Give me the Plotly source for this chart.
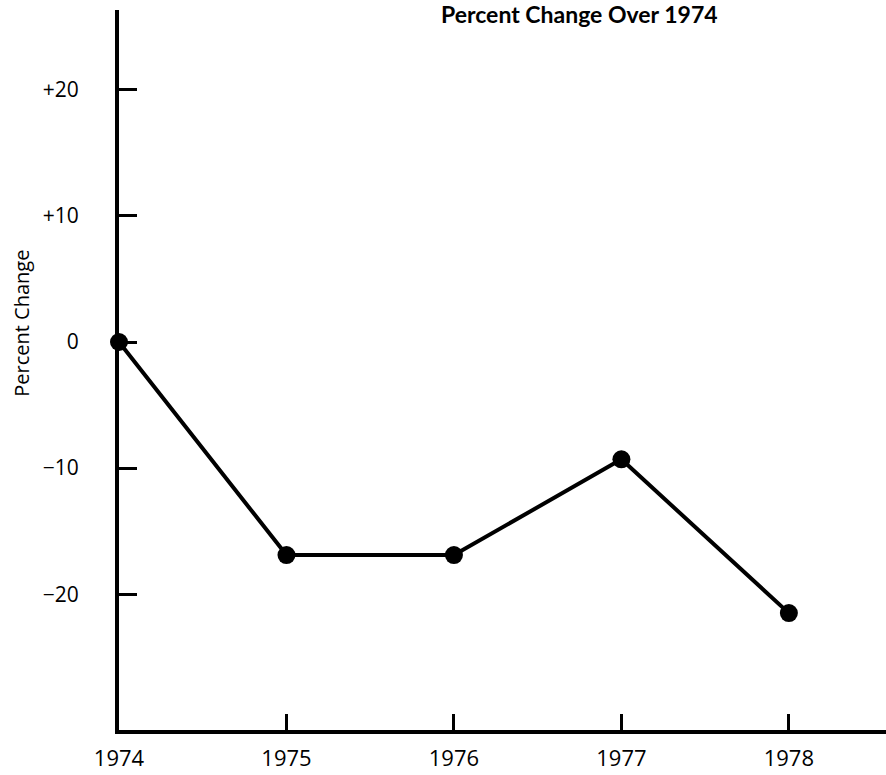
import plotly.graph_objects as go

years = [1974, 1975, 1976, 1977, 1978]
pct_change = [0, -16.9, -16.9, -9.3, -21.5]

y_tickvals = [20, 10, 0, -10, -20]
y_ticktext = ["+20", "+10", "0", "\u221210", "\u221220"]
x_ticktext = ["1974", "1975", "1976", "1977", "1978"]

FONT = "'Open Sans', Lato, sans-serif"
TITLE_FONT = "Lato, 'Open Sans', sans-serif"

fig = go.Figure(go.Scatter(
    x=years,
    y=pct_change,
    mode="lines+markers",
    line=dict(color="black", width=4),
    marker=dict(color="black", size=18),
    cliponaxis=False,
    hovertemplate="%{x}: %{y}%<extra></extra>",
))

fig.update_layout(
    width=886,
    height=775,
    plot_bgcolor="white",
    paper_bgcolor="white",
    font=dict(family=FONT, color="black"),
    margin=dict(l=119, r=0, t=10, b=45),
    showlegend=False,
    xaxis=dict(
        range=[1974, 1978.58],
        tickvals=years,
        ticktext=x_ticktext,
        ticks="inside",
        ticklen=16,
        tickwidth=3,
        tickcolor="black",
        showline=True,
        linewidth=4,
        linecolor="black",
        showgrid=False,
        zeroline=False,
        tickfont=dict(size=22, family=FONT),
        ticklabelstandoff=6,
    ),
    yaxis=dict(
        range=[-30.77, 26.33],
        tickvals=y_tickvals,
        ticktext=y_ticktext,
        ticks="inside",
        ticklen=18,
        tickwidth=3,
        tickcolor="black",
        showline=True,
        linewidth=4,
        linecolor="black",
        showgrid=False,
        zeroline=False,
        tickfont=dict(size=21, family=FONT),
        ticklabelstandoff=32,
    ),
)

# title sits right of centre in the original
fig.add_annotation(
    text="<b>Percent Change Over 1974</b>",
    xref="paper", yref="paper",
    x=0.6, y=0.994,
    xanchor="center", yanchor="middle",
    showarrow=False,
    font=dict(size=23, family=TITLE_FONT, color="black"),
)

fig.add_annotation(
    text="Percent Change",
    xref="paper", yref="paper",
    x=-0.127, y=0.565,
    xanchor="center", yanchor="middle",
    textangle=-90,
    showarrow=False,
    font=dict(size=20, family=FONT, color="black"),
)

fig.write_html(
    "out.html",
    config={"displayModeBar": False},
    post_script="document.body.style.margin='0';",
)
